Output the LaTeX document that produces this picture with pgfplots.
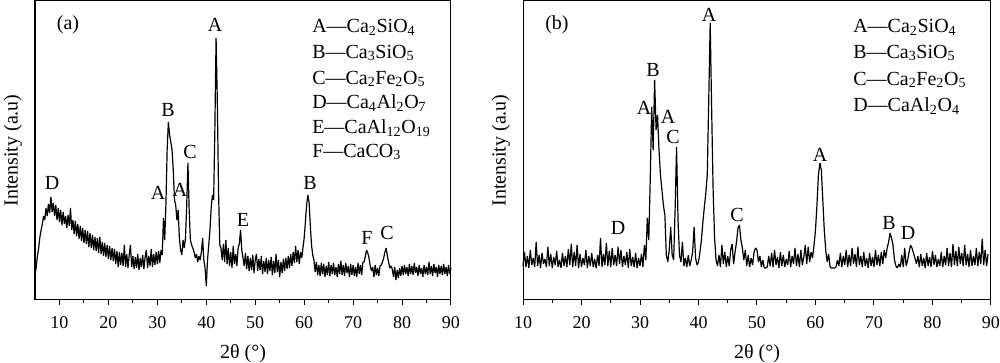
\documentclass[border=0pt]{standalone}
\usepackage{fontspec}
\setmainfont{Liberation Serif}
\usepackage{pgfplots}
\pgfplotsset{compat=1.18}
\newcommand{\sub}[1]{\textsubscript{#1}}
\tikzset{lab/.style={font=\fontsize{15}{18}\selectfont, inner sep=0pt}}
\begin{document}
\begin{tikzpicture}
\useasboundingbox (0,0) rectangle (750pt,272.25pt);
\pgfplotsset{
  xrdaxis/.style={
    scale only axis,
    height=224.25pt,
    ymin=0, ymax=299,
    ytick=\empty,
    xtick={10,20,30,40,50,60,70,80,90},
    minor x tick num=1,
    tick align=outside,
    xtick pos=bottom,
    major tick length=3.75pt,
    minor tick length=2.6pt,
    axis line style={line width=0.75pt},
    every tick/.style={line width=0.75pt, black},
    /pgf/number format/assume math mode=true,
    tick label style={font=\fontsize{13.5}{16}\selectfont},
    xticklabel shift=5pt,
    label style={font=\fontsize{15}{18}\selectfont},
    xlabel style={yshift=-5pt},
    ylabel shift=2.5pt,
    xlabel={2θ (°)},
    ylabel={Intensity (a.u)},
    clip=false,
  },
}
% ---------------- panel (a) ----------------
\begin{axis}[xrdaxis, at={(26.25pt,47.25pt)}, anchor=south west, width=312pt, xmin=5, xmax=90]
\addplot[black, line width=0.9pt, line join=bevel] coordinates {
(5.00,25) (5.25,33) (5.50,44) (5.75,52) (6.00,63) (6.25,70) (6.50,76) (6.75,84) (7.00,80) (7.25,92)
(7.50,84) (7.75,96) (8.00,87) (8.25,103) (8.50,88) (8.75,97)
(9.00,84) (9.25,95) (9.50,80) (9.75,92) (10.00,78) (10.25,90) (10.50,75) (10.75,88) (11.00,76) (11.25,84)
(11.50,72) (11.75,85) (12.00,74) (12.25,92) (12.50,70) (12.75,80) (13.00,66) (13.25,79) (13.50,64) (13.75,76)
(14.00,61) (14.25,74) (14.50,59) (14.75,72) (15.00,57) (15.25,70) (15.50,56) (15.75,69) (16.00,53) (16.25,67)
(16.50,52) (16.75,65) (17.00,50) (17.25,63) (17.50,49) (17.75,62) (18.00,47) (18.25,63) (18.50,46) (18.75,58)
(19.00,44) (19.25,57) (19.50,43) (19.75,55) (20.00,41) (20.25,54) (20.50,40) (20.75,52) (21.00,39) (21.25,51)
(21.50,36) (21.75,49) (22.00,33) (22.25,48) (22.50,35) (22.75,47) (23.00,34) (23.25,55) (23.50,33) (23.75,46)
(24.00,32) (24.25,45) (24.50,55) (24.75,33) (25.00,44) (25.25,31) (25.50,43) (25.75,32) (26.00,46) (26.25,30)
(26.50,42) (26.75,33) (27.00,45) (27.25,31) (27.50,43) (27.75,50) (28.00,32) (28.25,44) (28.50,34) (28.75,51)
(29.00,33) (29.25,46) (29.50,35) (29.75,48) (30.00,36) (30.25,49) (30.50,37) (30.75,50) (31.00,45)
(31.25,82) (31.50,60) (31.75,95) (32.00,150) (32.25,178)
(32.50,165) (32.75,158) (33.00,150) (33.25,130) (33.50,100) (33.75,95) (34.00,80) (34.25,90) (34.50,62) (34.75,50)
(35.00,45) (35.25,60) (35.50,52) (35.75,62) (36.00,95) (36.25,137) (36.50,90) (36.75,60) (37.00,55) (37.25,52)
(37.50,48) (37.75,42) (38.00,46) (38.25,38) (38.50,44) (38.75,40) (39.00,48) (39.25,62) (39.50,40) (39.75,32)
(40.00,14) (40.25,40) (40.50,55) (40.75,70) (41.00,92) (41.25,105) (41.50,100) (41.75,170) (42.00,262) (42.25,200)
(42.50,110) (42.75,55)
(43.00,52) (43.25,40) (43.50,56) (43.75,38) (44.00,60) (44.25,36) (44.50,52) (44.75,34) (45.00,48) (45.25,32)
(45.50,54) (45.75,36) (46.00,46) (46.25,34) (46.50,52) (46.75,56) (47.00,70) (47.25,50) (47.50,42) (47.75,34)
(48.00,47) (48.25,31) (48.50,44) (48.75,29) (49.00,42) (49.25,30) (49.50,45) (49.75,27) (50.00,40) (50.25,46)
(50.50,29) (50.75,41) (51.00,30) (51.25,44) (51.50,26) (51.75,39) (52.00,28) (52.25,42) (52.50,26) (52.75,40)
(53.00,29) (53.25,43) (53.50,25) (53.75,39) (54.00,27) (54.25,46) (54.50,28) (54.75,40) (55.00,23) (55.25,38)
(55.50,27) (55.75,41) (56.00,29) (56.25,42) (56.50,31) (56.75,44) (57.00,32) (57.25,46) (57.50,34) (57.75,48)
(58.00,37) (58.25,54) (58.50,38) (58.75,50) (59.00,36) (59.25,48) (59.50,42) (59.75,52)
(60.00,62) (60.25,78) (60.50,95) (60.75,105) (61.00,98) (61.25,75) (61.50,55) (61.75,45) (62.00,40)
(62.25,28) (62.50,38) (62.75,25) (63.00,35) (63.25,24) (63.50,37) (63.75,26) (64.00,36) (64.25,23) (64.50,34)
(64.75,25) (65.00,38) (65.25,24) (65.50,35) (65.75,26) (66.00,37) (66.25,25) (66.50,33) (66.75,23) (67.00,36)
(67.25,26) (67.50,39) (67.75,25) (68.00,35) (68.25,24) (68.50,37) (68.75,27) (69.00,34) (69.25,23) (69.50,36)
(69.75,25) (70.00,35) (70.25,24) (70.50,33) (70.75,23) (71.00,37) (71.25,26) (71.50,35) (71.75,25) (72.00,38)
(72.25,38) (72.50,44) (72.75,50) (73.00,47) (73.25,42) (73.50,34) (73.75,29)
(74.00,33) (74.25,23) (74.50,35) (74.75,25) (75.00,32) (75.25,24) (75.50,34)
(75.75,35) (76.00,38) (76.25,42) (76.50,48) (76.75,52) (77.00,44) (77.25,38) (77.50,32) (77.75,34)
(78.00,31) (78.25,23) (78.50,33) (78.75,20) (79.00,30) (79.25,22) (79.50,32) (79.75,24) (80.00,34) (80.25,25)
(80.50,35) (80.75,26) (81.00,33) (81.25,24) (81.50,36) (81.75,26) (82.00,34) (82.25,25) (82.50,37) (82.75,27)
(83.00,33) (83.25,24) (83.50,35) (83.75,26) (84.00,32) (84.25,23) (84.50,35) (84.75,26) (85.00,33) (85.25,25)
(85.50,38) (85.75,26) (86.00,34) (86.25,24) (86.50,36) (86.75,27) (87.00,33) (87.25,23) (87.50,35) (87.75,26)
(88.00,34) (88.25,25) (88.50,36) (88.75,26) (89.00,33) (89.25,24) (89.50,35) (89.75,26) (90.00,32)
};
\node[lab] at (axis cs:11.74,275) {(a)};
\node[lab] at (axis cs:8.47,117) {D};
\node[lab] at (axis cs:30.13,107) {A};
\node[lab] at (axis cs:32.18,190) {B};
\node[lab] at (axis cs:34.63,110) {A};
\node[lab] at (axis cs:36.67,148) {C};
\node[lab] at (axis cs:41.78,275) {A};
\node[lab] at (axis cs:47.5,80) {E};
\node[lab] at (axis cs:61.19,117) {B};
\node[lab] at (axis cs:72.84,62) {F};
\node[lab] at (axis cs:76.92,67) {C};
\node[lab, anchor=west] at (axis cs:61.6,273) {A—Ca\sub{2}SiO\sub{4}};
\node[lab, anchor=west] at (axis cs:61.6,247) {B—Ca\sub{3}SiO\sub{5}};
\node[lab, anchor=west] at (axis cs:61.6,221) {C—Ca\sub{2}Fe\sub{2}O\sub{5}};
\node[lab, anchor=west] at (axis cs:61.6,197) {D—Ca\sub{4}Al\sub{2}O\sub{7}};
\node[lab, anchor=west] at (axis cs:61.6,172) {E—CaAl\sub{12}O\sub{19}};
\node[lab, anchor=west] at (axis cs:61.6,148) {F—CaCO\sub{3}};
\end{axis}
% ---------------- panel (b) ----------------
\begin{axis}[xrdaxis, at={(392.25pt,47.25pt)}, anchor=south west, width=351pt, xmin=10, xmax=90]
\addplot[black, line width=0.9pt, line join=bevel] coordinates {
(10.00,34) (10.25,48) (10.50,33) (10.75,44) (11.00,32) (11.25,50) (11.50,35) (11.75,42) (12.00,33) (12.25,58)
(12.50,34) (12.75,45) (13.00,32) (13.25,47) (13.50,36) (13.75,41) (14.00,33) (14.25,53) (14.50,34) (14.75,46)
(15.00,32) (15.25,43) (15.50,35) (15.75,49) (16.00,33) (16.25,40) (16.50,32) (16.75,47) (17.00,34) (17.25,44)
(17.50,33) (17.75,51) (18.00,35) (18.25,56) (18.50,33) (18.75,48) (19.00,34) (19.25,55) (19.50,32) (19.75,46)
(20.00,33) (20.25,42) (20.50,35) (20.75,50) (21.00,32) (21.25,44) (21.50,34) (21.75,47) (22.00,33) (22.25,41)
(22.50,32) (22.75,45) (23.00,34) (23.25,62) (23.50,33) (23.75,46) (24.00,35) (24.25,57) (24.50,34) (24.75,49)
(25.00,33) (25.25,52) (25.50,35) (25.75,45) (26.00,34) (26.25,53) (26.50,36) (26.75,50) (27.00,33) (27.25,44)
(27.50,35) (27.75,48) (28.00,32) (28.25,51) (28.50,34) (28.75,43) (29.00,33) (29.25,47) (29.50,32) (29.75,42)
(30.00,34) (30.25,46) (30.50,33) (30.75,55) (31.00,40) (31.25,82) (31.50,60) (31.75,120) (32.00,193) (32.25,150)
(32.50,220) (32.75,170) (33.00,185) (33.25,150) (33.50,125) (33.75,110) (34.00,95) (34.25,85) (34.50,45) (34.75,38)
(35.00,50) (35.25,73) (35.50,45) (35.75,40) (36.00,90) (36.25,153) (36.50,80) (36.75,45) (37.00,38) (37.25,58)
(37.50,34) (37.75,42) (38.00,33) (38.25,45) (38.50,34) (38.75,40) (39.00,48) (39.25,73) (39.50,42) (39.75,35)
(40.00,38) (40.25,48) (40.50,60) (40.75,78) (41.00,93) (41.25,107) (41.50,125) (41.75,200) (42.00,277) (42.25,190)
(42.50,110) (42.75,62) (43.00,40) (43.25,34) (43.50,45) (43.75,33) (44.00,55) (44.25,36) (44.50,48) (44.75,33)
(45.00,44) (45.25,34) (45.50,50) (45.75,56) (46.00,36) (46.25,48) (46.50,58) (46.75,72) (47.00,75) (47.25,60)
(47.50,52) (47.75,40) (48.00,50) (48.25,34) (48.50,45) (48.75,33) (49.00,42) (49.25,35) (49.50,48) (49.75,52)
(50.00,50) (50.25,38) (50.50,44) (50.75,33) (51.00,40) (51.25,32) (51.50,32) (51.75,33) (52.00,44) (52.25,34)
(52.50,47) (52.75,33) (53.00,50) (53.25,35) (53.50,43) (53.75,32) (54.00,48) (54.25,34) (54.50,45) (54.75,33)
(55.00,41) (55.25,35) (55.50,49) (55.75,33) (56.00,44) (56.25,36) (56.50,52) (56.75,34) (57.00,46) (57.25,33)
(57.50,50) (57.75,35) (58.00,43) (58.25,55) (58.50,36) (58.75,53) (59.00,38) (59.25,48) (59.50,42) (59.75,55)
(60.00,70) (60.25,95) (60.50,125) (60.75,137) (61.00,130) (61.25,100) (61.50,70) (61.75,50) (62.00,38) (62.25,46)
(62.50,33) (62.75,32) (63.00,32) (63.25,32) (63.50,33) (63.75,40) (64.00,34) (64.25,47) (64.50,33) (64.75,44)
(65.00,35) (65.25,50) (65.50,33) (65.75,45) (66.00,34) (66.25,52) (66.50,36) (66.75,46) (67.00,33) (67.25,53)
(67.50,35) (67.75,44) (68.00,33) (68.25,48) (68.50,34) (68.75,42) (69.00,32) (69.25,47) (69.50,34) (69.75,43)
(70.00,33) (70.25,50) (70.50,35) (70.75,45) (71.00,34) (71.25,48) (71.50,36) (71.75,50) (72.00,42) (72.25,52)
(72.50,58) (72.75,67) (73.00,62) (73.25,55) (73.50,40) (73.75,34) (74.00,32) (74.25,36) (74.50,33) (74.75,45)
(75.00,33) (75.25,52) (75.50,34) (75.75,40) (76.00,48) (76.25,55) (76.50,52) (76.75,47) (77.00,42) (77.25,36)
(77.50,44) (77.75,33) (78.00,46) (78.25,34) (78.50,42) (78.75,32) (79.00,47) (79.25,34) (79.50,43) (79.75,33)
(80.00,49) (80.25,35) (80.50,45) (80.75,33) (81.00,41) (81.25,34) (81.50,48) (81.75,33) (82.00,44) (82.25,35)
(82.50,52) (82.75,34) (83.00,47) (83.25,33) (83.50,56) (83.75,35) (84.00,49) (84.25,34) (84.50,53) (84.75,36)
(85.00,47) (85.25,34) (85.50,55) (85.75,35) (86.00,46) (86.25,33) (86.50,50) (86.75,34) (87.00,44) (87.25,35)
(87.50,52) (87.75,34) (88.00,48) (88.25,36) (88.50,61) (88.75,35) (89.00,50) (89.25,34) (89.50,46)
};
\node[lab] at (axis cs:15.81,275) {(b)};
\node[lab] at (axis cs:26.24,72) {D};
\node[lab] at (axis cs:30.68,192) {A};
\node[lab] at (axis cs:32.22,230) {B};
\node[lab] at (axis cs:34.79,183) {A};
\node[lab] at (axis cs:35.64,163) {C};
\node[lab] at (axis cs:41.79,285) {A};
\node[lab] at (axis cs:46.58,85) {C};
\node[lab] at (axis cs:60.77,145) {A};
\node[lab] at (axis cs:72.56,77) {B};
\node[lab] at (axis cs:75.81,67) {D};
\node[lab, anchor=west] at (axis cs:66.41,273) {A—Ca\sub{2}SiO\sub{4}};
\node[lab, anchor=west] at (axis cs:66.41,247) {B—Ca\sub{3}SiO\sub{5}};
\node[lab, anchor=west] at (axis cs:66.41,220) {C—Ca\sub{2}Fe\sub{2}O\sub{5}};
\node[lab, anchor=west] at (axis cs:66.41,194) {D—CaAl\sub{2}O\sub{4}};
\end{axis}
\end{tikzpicture}
\end{document}
